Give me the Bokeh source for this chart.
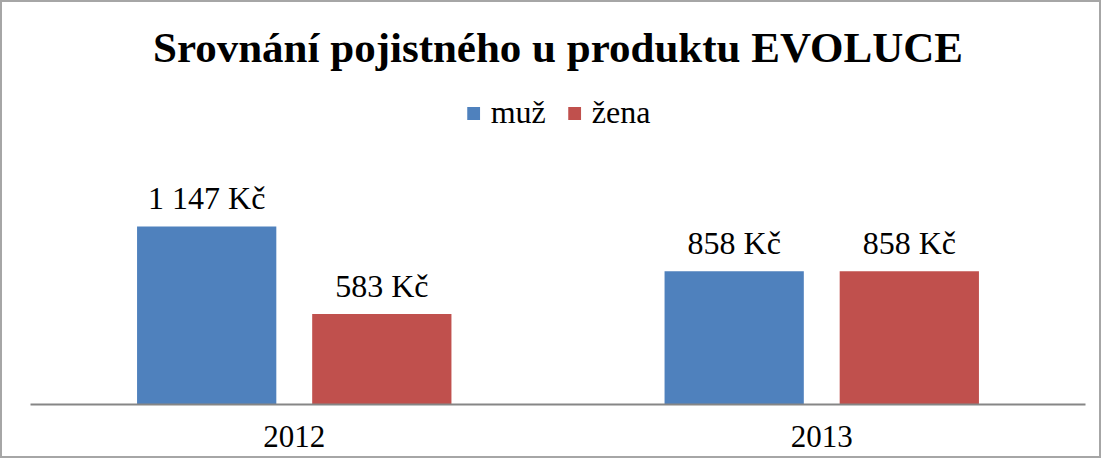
from bokeh.plotting import figure
from bokeh.models import ColumnDataSource, FactorRange, Range1d, Legend, LegendItem, Title
from bokeh.transform import dodge
from bokeh.core.properties import value
from bokeh.embed import file_html
from bokeh.resources import INLINE

years = ["2012", "2013"]
muz = [1147, 858]
zena = [583, 858]
series_names = ["muž", "žena"]
colors = ["#4F81BD", "#C0504D"]

def fmt(v):
    return "{:,}".format(v).replace(",", " ") + " Kč"

src = ColumnDataSource(dict(
    years=years, muz=muz, zena=zena,
    muz_lbl=[fmt(v) for v in muz], zena_lbl=[fmt(v) for v in zena],
))

FONT = "Liberation Serif"

p = figure(width=1101, height=458, x_range=FactorRange(factors=years, range_padding=0),
           y_range=Range1d(0, 2120), output_backend="svg", toolbar_location=None,
           min_border_left=28, min_border_right=18, min_border_bottom=56, min_border_top=73)
p.title = Title(text="Srovnání pojistného u produktu EVOLUCE", align="center",
                text_font=FONT, text_font_size="43px", text_font_style="bold",
                text_color="black", offset=0)
p.styles = {"border": "2px solid #a6a6a6", "box-sizing": "border-box"}

r1 = p.vbar(x=dodge("years", -0.166, range=p.x_range), top="muz", width=0.264,
            source=src, color=colors[0], line_color=None)
r2 = p.vbar(x=dodge("years", 0.166, range=p.x_range), top="zena", width=0.264,
            source=src, color=colors[1], line_color=None)

for off, col in [(-0.166, "muz"), (0.166, "zena")]:
    p.text(x=dodge("years", off, range=p.x_range), y=col, text=col + "_lbl", source=src,
           text_align="center", text_baseline="alphabetic", y_offset=-28,
           text_font=value(FONT), text_font_size="32px", text_color="black")

legend = Legend(items=[LegendItem(label=series_names[0], renderers=[r1]),
                       LegendItem(label=series_names[1], renderers=[r2])],
                orientation="horizontal", location="top_center",
                label_text_font=FONT, label_text_font_size="32px", label_text_color="black",
                glyph_width=16, glyph_height=16, label_standoff=10, spacing=20,
                border_line_color=None, background_fill_alpha=0, padding=0, margin=19)
p.add_layout(legend, "center")

p.xaxis.axis_line_color="#868686"
p.xaxis.axis_line_width=2
p.xaxis.major_tick_line_color=None
p.xaxis.minor_tick_line_color=None
p.xaxis.major_label_text_font=FONT
p.xaxis.major_label_text_font_size="31px"
p.xaxis.major_label_text_color="black"
p.xaxis.major_label_standoff=15
p.yaxis.visible=False
p.xgrid.grid_line_color=None
p.ygrid.grid_line_color=None
p.outline_line_color=None

open("out.html", "w").write(file_html(p, INLINE))
